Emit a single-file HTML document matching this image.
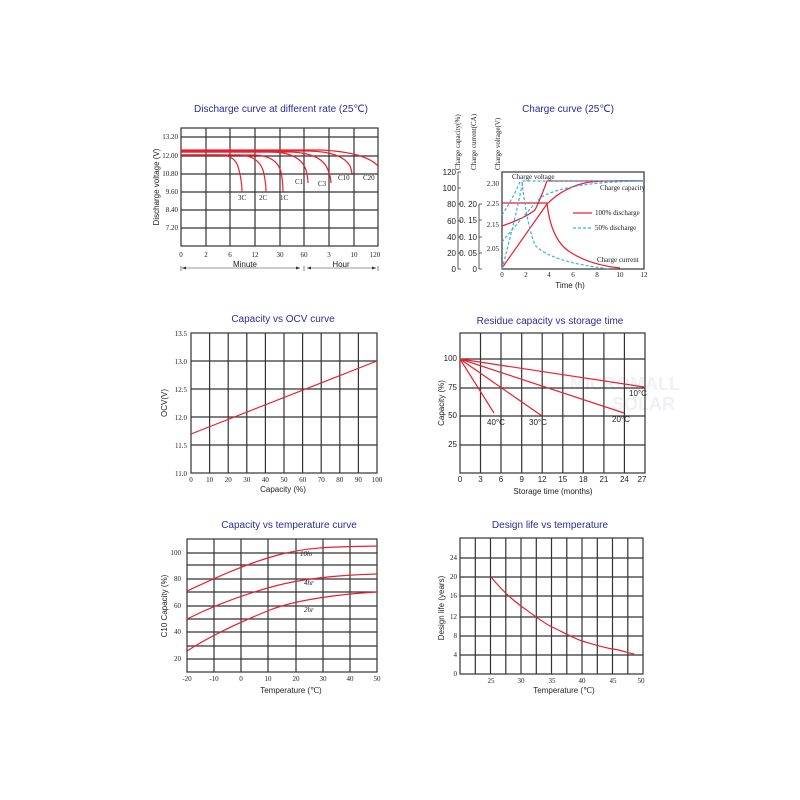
<!DOCTYPE html>
<html><head><meta charset="utf-8"><style>
html,body{margin:0;padding:0;background:#fff;}
svg{display:block;}
.t{font-family:"Liberation Sans",sans-serif;font-size:10px;fill:#2b2b9c;text-anchor:middle;}
.s{font-family:"Liberation Serif",serif;font-size:7px;fill:#222;}
.a{font-family:"Liberation Sans",sans-serif;font-size:8px;fill:#222;}
.g{stroke:#333;stroke-width:1.2;fill:none;}
.r{stroke:#e8202f;stroke-width:1.2;fill:none;}
.b{stroke:#3bb0e0;stroke-width:1.2;fill:none;stroke-dasharray:3,2;}
</style></head><body>
<svg width="800" height="800" viewBox="0 0 800 800" xmlns="http://www.w3.org/2000/svg">
<rect width="800" height="800" fill="#fff"/>

<!-- Chart 1 -->
<text class="t" x="281" y="112">Discharge curve at different rate (25℃)</text>
<g class="g">
<rect x="181" y="128" width="197" height="118"/>
<path d="M206 128V246M230 128V246M255 128V246M280 128V246M304 128V246M329 128V246M354 128V246"/>
<path d="M181 137H378M181 156H378M181 174H378M181 192H378M181 210H378M181 228H378"/>
</g>
<g class="s" text-anchor="end">
<text x="178" y="139">13.20</text><text x="178" y="158">12.00</text><text x="178" y="176">10.80</text>
<text x="178" y="194">9.60</text><text x="178" y="212">8.40</text><text x="178" y="230">7.20</text>
</g>
<text class="a" transform="translate(159,187) rotate(-90)" text-anchor="middle">Discharge voltage (V)</text>
<g class="s" text-anchor="middle" font-size="8">
<text x="181" y="257">0</text><text x="206" y="257">2</text><text x="230" y="257">6</text><text x="255" y="257">12</text>
<text x="280" y="257">30</text><text x="304" y="257">60</text><text x="329" y="257">3</text><text x="354" y="257">10</text><text x="375" y="257">120</text>
</g>
<text class="a" x="245" y="267" text-anchor="middle" font-size="9">Minute</text>
<text class="a" x="341" y="267" text-anchor="middle" font-size="9">Hour</text>
<path d="M182 268H300M307 268H376" stroke="#333" stroke-width="0.6"/>
<path d="M181 266V271M304 266V271M378 266V271" stroke="#333" stroke-width="0.6"/>
<path d="M182 268l4 -1.5v3zM300 268l-4 -1.5v3zM307 268l4 -1.5v3zM376 268l-4 -1.5v3z" fill="#333"/>
<g class="r">
<path d="M181 155H220Q236 155 239 170Q242 182 242 192"/>
<path d="M181 155H240Q258 156 263 170Q266 182 266 192"/>
<path d="M181 155H255Q277 156 281 172Q283 182 283 192"/>
<path d="M181 152H270Q300 152 306 170Q308 178 308 183"/>
<path d="M181 152H290Q322 153 328 170Q331 178 331 183"/>
<path d="M181 151H310Q342 152 350 166Q352 171 352 175"/>
<path d="M181 150H320Q365 152 378 166"/>
</g>
<g class="s">
<text x="238" y="200">3C</text><text x="259" y="200">2C</text><text x="280" y="200">1C</text>
<text x="295" y="184">C1</text><text x="318" y="186">C3</text><text x="338" y="180">C10</text><text x="363" y="180">C20</text>
</g>

<!-- Chart 2 -->
<text class="t" x="568" y="112">Charge curve (25℃)</text>
<rect class="g" x="502" y="172" width="142" height="97"/>
<g class="s" font-size="6.5">
<text transform="translate(460,170) rotate(-90)">Charge capacity(%)</text>
<text transform="translate(476,170) rotate(-90)">Charge current(CA)</text>
<text transform="translate(500,170) rotate(-90)">Charge voltage(V)</text>
</g>
<path d="M458 172V269M458 172H461M458 188H461M458 204H461M458 221H461M458 237H461M458 253H461M458 269H461" stroke="#333" stroke-width="0.8" fill="none"/>
<path d="M479 204V269M479 204H482M479 220H482M479 237H482M479 253H482M479 269H482" stroke="#333" stroke-width="0.8" fill="none"/>
<g class="a" text-anchor="end" font-size="7.5">
<text x="456" y="175">120</text><text x="456" y="191">100</text><text x="456" y="207">80</text><text x="456" y="224">60</text>
<text x="456" y="240">40</text><text x="456" y="256">20</text><text x="456" y="272">0</text>
<text x="477" y="207">0. 20</text><text x="477" y="223">0. 15</text><text x="477" y="240">0. 10</text><text x="477" y="256">0. 05</text><text x="477" y="272">0</text>
</g>
<g class="s" text-anchor="end" font-size="6.5">
<text x="499" y="186">2.30</text><text x="499" y="206">2.25</text><text x="499" y="227">2.15</text><text x="499" y="251">2.05</text>
</g>
<g class="s" text-anchor="middle" font-size="6.5">
<text x="502" y="277">0</text><text x="526" y="277">2</text><text x="549" y="277">4</text><text x="573" y="277">6</text>
<text x="597" y="277">8</text><text x="620" y="277">10</text><text x="644" y="277">12</text>
</g>
<text class="a" x="570" y="288" text-anchor="middle">Time (h)</text>
<g class="r">
<path d="M502 226Q525 218 535 210Q540 200 547 181H644"/>
<path d="M502 203H547Q551 240 570 252Q590 265 620 268"/>
<path d="M547 204L502 268M547 204Q565 186 590 182Q615 180 644 181"/>
</g>
<g class="b">
<path d="M502 269Q515 220 523 181H644"/>
<path d="M502 242Q520 220 540 198Q565 182 644 181"/>
<path d="M502 215Q512 200 520 182"/>
<path d="M522 182Q527 225 535 245Q550 262 610 269"/>
</g>
<path d="M573 213H592" class="r"/><text class="s" x="595" y="215">100% discharge</text>
<path d="M573 228H592" class="b"/><text class="s" x="595" y="230">50% discharge</text>
<text class="s" x="512" y="179">Charge voltage</text>
<text class="s" x="600" y="190">Charge capacity</text>
<text class="s" x="597" y="262">Charge current</text>

<!-- Chart 3 -->
<text class="t" x="283" y="322">Capacity vs OCV curve</text>
<g class="g">
<rect x="191" y="333" width="186" height="140"/>
<path d="M209.6 333V473M228.2 333V473M246.8 333V473M265.4 333V473M284 333V473M302.6 333V473M321.2 333V473M339.8 333V473M358.4 333V473"/>
<path d="M191 361H377M191 389H377M191 417H377M191 445H377"/>
</g>
<g class="s" text-anchor="end">
<text x="187" y="336">13.5</text><text x="187" y="364">13.0</text><text x="187" y="392">12.5</text>
<text x="187" y="420">12.0</text><text x="187" y="448">11.5</text><text x="187" y="476">11.0</text>
</g>
<g class="s" text-anchor="middle">
<text x="191" y="482">0</text><text x="209.6" y="482">10</text><text x="228.2" y="482">20</text><text x="246.8" y="482">30</text>
<text x="265.4" y="482">40</text><text x="284" y="482">50</text><text x="302.6" y="482">60</text><text x="321.2" y="482">70</text>
<text x="339.8" y="482">80</text><text x="358.4" y="482">90</text><text x="377" y="482">100</text>
</g>
<text class="a" x="283" y="492" text-anchor="middle">Capacity (%)</text>
<text class="a" transform="translate(167,403) rotate(-90)" text-anchor="middle">OCV(V)</text>
<path class="r" d="M191 434L377 361"/>

<!-- Chart 4 -->
<text class="t" x="550" y="324">Residue capacity vs storage time</text>
<text x="570" y="390" font-family="Liberation Sans,sans-serif" font-size="18" font-weight="bold" fill="#f0f1f6">MICROMALL</text>
<text x="612" y="410" font-family="Liberation Sans,sans-serif" font-size="18" font-weight="bold" fill="#f0f1f6">SOLAR</text>
<g class="g">
<rect x="460" y="333" width="185" height="140"/>
<path d="M480.5 333V473M501 333V473M521.7 333V473M542.2 333V473M562.8 333V473M583.3 333V473M603.9 333V473M624.4 333V473"/>
<path d="M460 359H645M460 388H645M460 416H645M460 445H645"/>
</g>
<g class="a" text-anchor="end" font-size="7">
<text x="457" y="361">100</text><text x="457" y="390">75</text><text x="457" y="418">50</text><text x="457" y="447">25</text>
</g>
<g class="a" text-anchor="middle" font-size="7.5">
<text x="460" y="482">0</text><text x="480.5" y="482">3</text><text x="501" y="482">6</text><text x="521.7" y="482">9</text>
<text x="542.2" y="482">12</text><text x="562.8" y="482">15</text><text x="583.3" y="482">18</text><text x="603.9" y="482">21</text>
<text x="624.4" y="482">24</text><text x="642" y="482">27</text>
</g>
<text class="a" x="553" y="494" text-anchor="middle">Storage time (months)</text>
<text class="a" transform="translate(444,403) rotate(-90)" text-anchor="middle">Capacity (%)</text>
<g class="r">
<path d="M460 359L644 387M460 359L624 413M460 359L542 416M460 359L494 413"/>
</g>
<g class="a" font-size="6.5">
<text x="629" y="396">10°C</text><text x="612" y="422">20°C</text><text x="529" y="425">30°C</text><text x="487" y="425">40°C</text>
</g>

<!-- Chart 5 -->
<text class="t" x="289" y="528">Capacity vs temperature curve</text>
<g class="g">
<rect x="187" y="539" width="190" height="133"/>
<path d="M214 539V672M241 539V672M268 539V672M296 539V672M323 539V672M350 539V672"/>
<path d="M187 553H377M187 565H377M187 579H377M187 592H377M187 606H377M187 619H377M187 632H377M187 646H377M187 659H377"/>
</g>
<g class="s" text-anchor="end" font-size="6.5">
<text x="181" y="555">100</text><text x="181" y="581">80</text><text x="181" y="608">60</text><text x="181" y="634">40</text><text x="181" y="661">20</text>
</g>
<g class="s" text-anchor="middle" font-size="6.5">
<text x="187" y="681">-20</text><text x="214" y="681">-10</text><text x="241" y="681">0</text><text x="268" y="681">10</text>
<text x="296" y="681">20</text><text x="323" y="681">30</text><text x="350" y="681">40</text><text x="377" y="681">50</text>
</g>
<text class="a" x="291" y="693" text-anchor="middle">Temperature (℃)</text>
<text class="a" transform="translate(167,606) rotate(-90)" text-anchor="middle">C10 Capacity (%)</text>
<g class="r">
<path d="M187 591C215 578 245 564 278 555S340 547 377 546"/>
<path d="M187 619C215 605 245 594 275 586S340 575 377 574"/>
<path d="M187 651C215 633 245 620 270 610S340 594 377 592"/>
</g>
<g class="s" font-style="italic" font-size="7">
<text x="300" y="556">10hr</text><text x="304" y="585">4hr</text><text x="304" y="612">2hr</text>
</g>

<!-- Chart 6 -->
<text class="t" x="550" y="528">Design life vs temperature</text>
<g class="g">
<rect x="460" y="538" width="183" height="136"/>
<path d="M475.3 538V674M490.5 538V674M505.8 538V674M521 538V674M536.3 538V674M551.5 538V674M566.8 538V674M582 538V674M597.3 538V674M612.5 538V674M627.8 538V674"/>
<path d="M460 558H643M460 577H643M460 596H643M460 617H643M460 636H643M460 655H643"/>
</g>
<g class="s" text-anchor="end" font-size="6.5">
<text x="457" y="560">24</text><text x="457" y="579">20</text><text x="457" y="598">16</text><text x="457" y="619">12</text>
<text x="457" y="638">8</text><text x="457" y="657">4</text><text x="457" y="676">0</text>
</g>
<g class="s" text-anchor="middle" font-size="6.5">
<text x="491" y="683">25</text><text x="521" y="683">30</text><text x="552" y="683">35</text><text x="582" y="683">40</text>
<text x="613" y="683">45</text><text x="641" y="683">50</text>
</g>
<text class="a" x="564" y="693" text-anchor="middle">Temperature (℃)</text>
<text class="a" transform="translate(444,608) rotate(-90)" text-anchor="middle">Design life (years)</text>
<path class="r" d="M491 577C500 588 510 598 521 606S545 624 552 627S575 639 582 641S605 648 613 649S628 653 634 654"/>
</svg>
</body></html>
